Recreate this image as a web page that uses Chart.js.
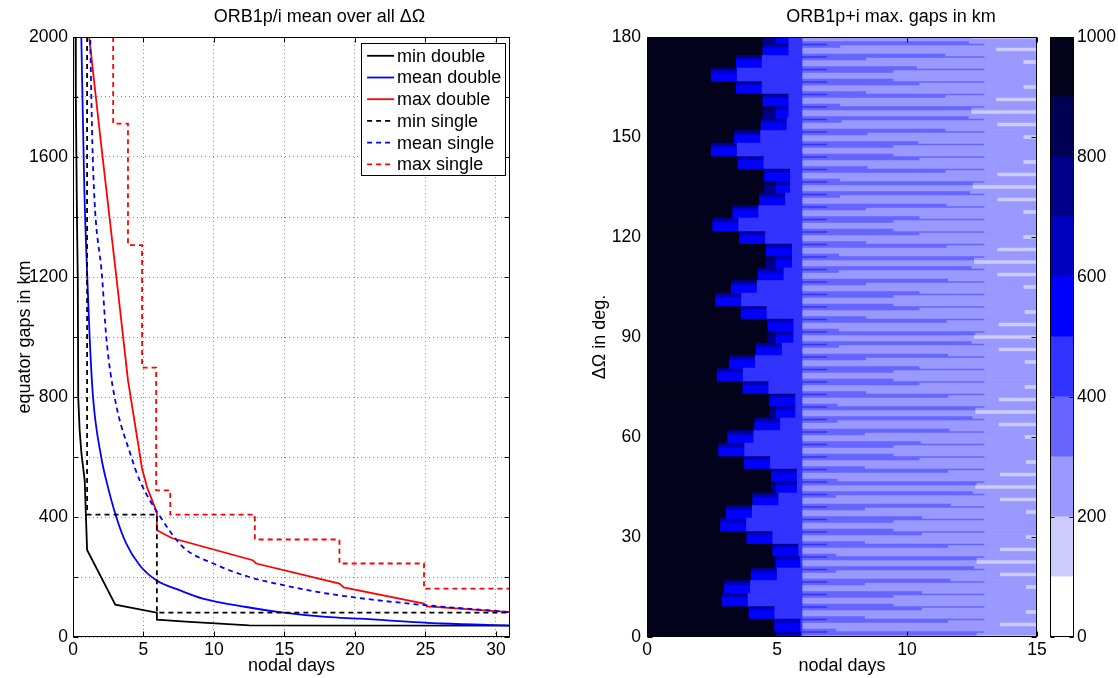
<!DOCTYPE html>
<html><head><meta charset="utf-8">
<script src="https://cdn.jsdelivr.net/npm/chart.js@4.4.1/dist/chart.umd.min.js"></script>
<style>
html,body{margin:0;padding:0;background:#fff;}
#wrap{position:relative;width:1118px;height:678px;overflow:hidden;background:#fff;}
canvas{position:absolute;top:0;}
</style></head><body>
<div id="wrap">
<canvas id="cL" width="560" height="678" style="left:0px;width:560px;height:678px"></canvas>
<canvas id="cR" width="495" height="678" style="left:560px;width:495px;height:678px"></canvas>
<canvas id="cC" width="78" height="678" style="left:1040px;width:78px;height:678px"></canvas>
</div>
<script>
// ---------------- Left panel data (nodal days vs. equator gap in km) ----------------
const minDoubleX  = [0.16, 0.2, 0.28, 0.34, 0.37, 0.47, 0.6, 0.83, 1.0, 3.0, 5.95, 5.95, 8.0, 12.5, 31];
const minDoubleY  = [2300, 1800, 1400, 1190, 800, 690, 611, 522, 290, 108, 81, 58, 51, 39, 38];
const meanDoubleX = [0.57, 0.8, 1.02, 1.18, 1.42, 2.0, 2.36, 3.07, 3.78, 4.73, 5.91, 7.56, 9.21, 12.28, 14.65, 17.95, 20.32, 26.2, 31];
const meanDoubleY = [2050, 1500, 1190, 1000, 800, 600, 522, 400, 311, 239, 189, 156, 128, 100, 83, 67, 61, 45, 38];
const maxDoubleX  = [1.1, 2.0, 3.1, 3.9, 4.9, 5.25, 5.8, 5.95, 5.95, 7.0, 12.75, 13.0, 18.9, 19.2, 24.9, 25.1, 31];
const maxDoubleY  = [2020, 1640, 1190, 856, 561, 500, 433, 412, 356, 330, 256, 245, 178, 165, 111, 102, 83];
const minSingleX  = [1.0, 1.0, 5.95, 5.95, 31];
const minSingleY  = [2300, 408, 408, 81, 81];
const meanSingleX = [1.2, 1.4, 2.08, 2.36, 2.95, 4.14, 4.73, 6.2, 7.8, 10.0, 12.5, 15.0, 18.0, 23.9, 31];
const meanSingleY = [2050, 1600, 1190, 1000, 800, 600, 522, 400, 300, 244, 200, 172, 145, 111, 83];
const maxSingleX  = [2.85, 2.85, 3.9, 3.9, 4.9, 4.9, 5.9, 5.9, 6.9, 6.9, 12.9, 12.9, 18.9, 18.9, 24.9, 24.9, 31, 31];
const maxSingleY  = [2300, 1711, 1711, 1306, 1306, 898, 898, 489, 489, 408, 408, 325, 325, 245, 245, 161, 161, 39];
const seriesLabels = ['min double', 'mean double', 'max double', 'min single', 'mean single', 'max single'];

// ---------------- Right panel data (max gaps heat map) ----------------
// ΔΩ band centres (deg)
const bandDeg = [0,3.75,7.5,11.25,15,18.75,22.5,26.25,30,33.75,37.5,41.25,45,48.75,52.5,56.25,60,63.75,67.5,71.25,75,78.75,82.5,86.25,90,93.75,97.5,101.25,105,108.75,112.5,116.25,120,123.75,127.5,131.25,135,138.75,142.5,146.25,150,153.75,157.5,161.25,165,168.75,172.5,176.25,180];
// sub-row offsets within each band (deg), top to bottom
const subRowDeg = [1.5, 0.75, 0, -0.75, -1.5];
// nodal day where the >900 km region ends
const blackEnd = [4.95,4.92,3.93,2.90,2.99,4.02,4.92,4.85,3.85,2.84,3.06,4.08,4.79,4.79,3.76,2.77,3.12,4.15,4.73,4.73,3.70,2.71,3.18,4.21,4.66,4.66,3.63,2.65,3.25,4.28,4.60,4.60,3.57,2.54,3.31,4.34,4.53,4.53,3.51,2.48,3.38,4.40,4.47,4.47,3.44,2.48,3.44,4.47,4.47];
// end of the dark navy (700-900 km) block
const navyEnd = [4.98,4.92,3.93,2.90,2.99,4.02,4.98,4.85,3.85,2.84,3.06,4.08,4.98,4.79,3.76,2.77,3.12,4.15,4.98,4.73,3.70,2.71,3.18,4.21,4.98,4.66,3.63,2.65,3.25,4.28,4.98,4.60,3.57,2.54,3.31,4.34,4.98,4.53,3.51,2.48,3.38,4.40,4.98,4.47,3.44,2.48,3.44,4.47,4.98];
// end of the 500-900 km transition block
const transEnd = [5.95,5.92,4.93,3.90,3.99,5.02,5.92,5.85,4.85,3.84,4.06,5.08,5.79,5.79,4.76,3.77,4.12,5.15,5.73,5.73,4.70,3.71,4.18,5.21,5.66,5.66,4.63,3.65,4.25,5.28,5.60,5.60,4.57,3.54,4.31,5.34,5.53,5.53,4.51,3.48,4.38,5.40,5.47,5.47,4.44,3.48,4.44,5.47,5.47];
const blueColumnEnd = 6.0;     // 400-500 km column ends
const shortStripeEnd = 6.95;   // short 400-500 km stripe
const fullStripeEnd = 13.0;    // long 300-400 km stripe
const bar1End = [12.7,11.6,10.6,9.5,8.4,7.3,12.7,11.6,10.6,9.5,8.4,7.3,12.7,11.6,10.5,9.5,8.4,7.35,12.65,11.6,10.5,9.5,8.45,7.4,12.65,11.55,10.5,9.5,8.45,7.4,12.6,11.55,10.5,9.5,8.45,7.45,12.55,11.5,10.5,9.5,8.5,7.5,12.5,11.5,10.5,9.5,8.45,7.45,12.5];
const bar2End = [12.6,7.3,8.4,9.5,10.6,11.7,12.6,7.3,8.4,9.5,10.6,11.7,12.55,7.35,8.4,9.5,10.55,11.65,12.55,7.35,8.45,9.5,10.5,11.6,12.5,7.4,8.45,9.5,10.5,11.6,12.5,7.4,8.45,9.5,10.5,11.55,12.45,7.45,8.5,9.5,10.45,11.5,12.4,7.45,8.45,9.5,10.4,11.5,12.4];
const paleStart = [12.7,13.6,14.6,15,14.6,13.6,12.7,13.6,14.6,15,14.6,13.6,12.65,13.6,14.6,15,14.55,13.55,12.65,13.55,14.55,15,14.55,13.55,12.6,13.55,14.55,15,14.5,13.5,12.6,13.5,14.5,15,14.5,13.5,12.55,13.5,14.5,15,14.5,13.5,12.5,13.45,14.5,15,14.5,13.45,12.5];
// colour level (0..9) of the transition block per sub-row
const transLevels = [7, 6, 5, 5, 5];
const navyLevels  = [8, 8, 7, 7, 7];
// colour scale: levels of 100 km
const levelBounds = [0,100,200,300,400,500,600,700,800,900,1000];
const levelColors = ['#ffffff','#ccccff','#9999ff','#6666ff','#3333ff','#0000ff','#0000c0','#00008a','#000055','#03031c'];
const panelTitles = ['ORB1p/i mean over all ΔΩ', 'ORB1p+i max. gaps in km'];

const FONT = "'Liberation Sans', Arial, Helvetica, sans-serif";
Chart.defaults.font.family = FONT;
Chart.defaults.font.size = 17.5;
Chart.defaults.color = '#000';

// -------- plugins: frame + inward ticks, boxed legend, panel title --------
const frameTicks = {
  id: 'frameTicks',
  afterDatasetsDraw(chart, args, o) {
    const {ctx, chartArea: a} = chart;
    const L = o.len || 5;
    ctx.save();
    ctx.strokeStyle = '#000'; ctx.lineWidth = 1; ctx.setLineDash([]);
    const l = Math.round(a.left) + 0.5, r = Math.round(a.right) - 0.5;
    const t = Math.round(a.top) + 0.5, b = Math.round(a.bottom) - 0.5;
    ctx.beginPath();
    if (o.x) chart.scales.x.ticks.forEach(tk => {
      const p = Math.round(chart.scales.x.getPixelForValue(tk.value)) + 0.5;
      ctx.moveTo(p, b); ctx.lineTo(p, b - L); ctx.moveTo(p, t); ctx.lineTo(p, t + L);
    });
    if (o.y) chart.scales.y.ticks.forEach(tk => {
      const p = Math.round(chart.scales.y.getPixelForValue(tk.value)) + 0.5;
      ctx.moveTo(l, p); ctx.lineTo(l + L, p); ctx.moveTo(r, p); ctx.lineTo(r - L, p);
    });
    ctx.stroke();
    ctx.strokeRect(l, t, r - l, b - t);
    ctx.restore();
  }
};
const boxLegend = {
  id: 'boxLegend',
  afterDatasetsDraw(chart, args, o) {
    const {ctx, chartArea: a} = chart;
    const ds = chart.data.datasets;
    ctx.save();
    ctx.font = '18px ' + FONT;
    const tw = Math.max(...ds.map(d => ctx.measureText(d.label).width));
    const w = o.textX + tw + o.padR;
    const h = o.firstRow + (ds.length - 1) * o.rowH + o.padB;
    const x0 = Math.round(a.right - o.right - w) + 0.5;
    const y0 = Math.round(a.top + o.top) + 0.5;
    ctx.fillStyle = '#fff';
    ctx.fillRect(x0, y0, w, h);
    ctx.strokeStyle = '#000'; ctx.lineWidth = 1; ctx.setLineDash([]);
    ctx.strokeRect(x0, y0, Math.round(w), Math.round(h));
    ds.forEach((d, i) => {
      const yy = y0 + o.firstRow + i * o.rowH;
      ctx.beginPath();
      ctx.strokeStyle = d.borderColor; ctx.lineWidth = d.borderWidth;
      ctx.setLineDash(d.borderDash || []);
      ctx.moveTo(x0 + o.sampleX, yy); ctx.lineTo(x0 + o.sampleX + o.sampleLen, yy);
      ctx.stroke();
      ctx.setLineDash([]);
      ctx.fillStyle = '#000'; ctx.textBaseline = 'middle'; ctx.textAlign = 'left';
      ctx.fillText(d.label, x0 + o.textX, yy + 1);
    });
    ctx.restore();
  }
};
const panelTitle = {
  id: 'panelTitle',
  afterDraw(chart, args, o) {
    const {ctx, chartArea: a} = chart;
    ctx.save();
    ctx.font = '18px ' + FONT; ctx.fillStyle = '#000';
    ctx.textAlign = 'center'; ctx.textBaseline = 'middle';
    ctx.fillText(o.text, (a.left + a.right) / 2 + o.dx, o.y);
    ctx.restore();
  }
};

// ---------------- Left chart ----------------
const seriesX = [minDoubleX, meanDoubleX, maxDoubleX, minSingleX, meanSingleX, maxSingleX];
const seriesY = [minDoubleY, meanDoubleY, maxDoubleY, minSingleY, meanSingleY, maxSingleY];
const seriesColor = ['#000000', '#0000ff', '#ff0000', '#000000', '#0000ff', '#ff0000'];
const seriesDash = [[], [], [], [5, 4], [5, 4], [5, 4]];
const seriesSmooth = [false, true, false, false, true, false];

new Chart(document.getElementById('cL'), {
  type: 'line',
  data: {
    datasets: seriesLabels.map((lab, i) => ({
      label: lab,
      data: seriesX[i].map((x, j) => ({x: x, y: seriesY[i][j]})),
      borderColor: seriesColor[i], backgroundColor: seriesColor[i],
      borderDash: seriesDash[i], borderWidth: 1.8, pointRadius: 0, fill: false,
      tension: seriesSmooth[i] ? 0.4 : 0,
      cubicInterpolationMode: seriesSmooth[i] ? 'monotone' : 'default',
      order: seriesLabels.length - i
    }))
  },
  options: {
    responsive: false, animation: false, events: [], devicePixelRatio: 1,
    layout: {padding: {left: 0, right: 50, top: 37, bottom: 0}},
    plugins: {
      legend: {display: false}, tooltip: {enabled: false}, title: {display: false},
      panelTitle: {text: panelTitles[0], dx: 28, y: 17},
      frameTicks: {x: true, y: true, len: 5},
      boxLegend: {right: 5, top: 5.7, sampleX: 5.6, sampleLen: 27, textX: 35.6, padR: 4, firstRow: 12.3, rowH: 21.7, padB: 10.7}
    },
    scales: {
      x: {
        type: 'linear', min: 0, max: 31,
        afterFit(s) { s.height = 41; },
        ticks: {stepSize: 5, includeBounds: false, maxRotation: 0, padding: 3, color: '#000'},
        grid: {color: '#8c8c8c', lineWidth: 1, drawTicks: false},
        border: {display: false, dash: [1, 3]},
        title: {display: true, text: 'nodal days', color: '#000', font: {size: 18}, padding: {top: 0, bottom: 1}}
      },
      y: {
        type: 'linear', min: 0, max: 2000,
        afterFit(s) { s.width = 73; },
        ticks: {stepSize: 200, includeBounds: false, padding: 5, color: '#000',
                callback: v => (v % 400 === 0 ? String(v) : '')},
        grid: {color: '#8c8c8c', lineWidth: 1, drawTicks: false},
        border: {display: false, dash: [1, 3]},
        title: {display: true, text: 'equator gaps in km', color: '#000', font: {size: 18}, padding: {top: 14}}
      }
    }
  },
  plugins: [frameTicks, boxLegend, panelTitle]
});

// ---------------- Right chart (heat map as floating horizontal bars) ----------------
function buildHeatSets() {
  const sets = levelColors.map(() => []);
  bandDeg.forEach((c, k) => {
    subRowDeg.forEach((off, s) => {
      const y = c + off;
      const segs = [];
      segs.push([0, blackEnd[k], 9]);
      segs.push([blackEnd[k], navyEnd[k], navyLevels[s]]);
      segs.push([Math.max(blackEnd[k], navyEnd[k]), transEnd[k], transLevels[s]]);
      segs.push([transEnd[k], blueColumnEnd, 4]);
      if (s === 0) {
        segs.push([blueColumnEnd, shortStripeEnd, 4]);
        segs.push([shortStripeEnd, fullStripeEnd, 3]);
        segs.push([fullStripeEnd, 15, 2]);
      } else if (s === 1) {
        segs.push([blueColumnEnd, bar1End[k], 3]);
        segs.push([bar1End[k], 15, 2]);
      } else if (s === 2) {
        segs.push([blueColumnEnd, paleStart[k], 2]);
        segs.push([paleStart[k], 15, 1]);
      } else if (s === 3) {
        segs.push([blueColumnEnd, 15, 2]);
      } else {
        segs.push([blueColumnEnd, bar2End[k], 3]);
        segs.push([bar2End[k], 15, 2]);
      }
      segs.forEach(([a, b, l]) => { if (b > a) sets[l].push({x: [a, b], y: y}); });
    });
  });
  return sets;
}
const heatSets = buildHeatSets();

new Chart(document.getElementById('cR'), {
  type: 'bar',
  data: {
    datasets: heatSets.map((d, l) => ({
      label: levelBounds[l] + '-' + levelBounds[l + 1],
      data: d, backgroundColor: levelColors[l], borderWidth: 0,
      grouped: false, barPercentage: 1, categoryPercentage: 1, inflateAmount: 0.6, clip: 0
    }))
  },
  options: {
    indexAxis: 'y', responsive: false, animation: false, events: [], devicePixelRatio: 1,
    layout: {padding: {left: 0, right: 18, top: 37, bottom: 0}},
    plugins: {
      legend: {display: false}, tooltip: {enabled: false}, title: {display: false},
      panelTitle: {text: panelTitles[1], dx: 49, y: 17},
      frameTicks: {x: true, y: true, len: 5}
    },
    scales: {
      x: {
        type: 'linear', min: 0, max: 15, offset: false,
        afterFit(s) { s.height = 41; },
        ticks: {stepSize: 5, includeBounds: false, maxRotation: 0, padding: 3, color: '#000'},
        grid: {display: false, drawTicks: false},
        border: {display: false},
        title: {display: true, text: 'nodal days', color: '#000', font: {size: 18}, padding: {top: 0, bottom: 1}}
      },
      y: {
        type: 'linear', min: 0, max: 180, offset: false,
        afterFit(s) { s.width = 87; },
        ticks: {stepSize: 30, includeBounds: false, padding: 6, color: '#000'},
        grid: {display: false, drawTicks: false},
        border: {display: false},
        title: {display: true, text: 'ΔΩ in deg.', color: '#000', font: {size: 18}, padding: {top: 29}}
      }
    }
  },
  plugins: [frameTicks, panelTitle]
});

// ---------------- Colour bar ----------------
new Chart(document.getElementById('cC'), {
  type: 'bar',
  data: {
    labels: ['gap'],
    datasets: levelColors.map((col, l) => ({
      label: levelBounds[l] + '-' + levelBounds[l + 1],
      data: [[levelBounds[l], levelBounds[l + 1]]],
      backgroundColor: col, borderWidth: 0, grouped: false,
      barPercentage: 1, categoryPercentage: 1, inflateAmount: 0.4
    }))
  },
  options: {
    responsive: false, animation: false, events: [], devicePixelRatio: 1,
    layout: {padding: {left: 10, right: 0, top: 37, bottom: 41}},
    plugins: {legend: {display: false}, tooltip: {enabled: false}, frameTicks: {x: false, y: true, len: 4}},
    scales: {
      x: {display: false},
      y: {
        type: 'linear', position: 'right', min: 0, max: 1000,
        afterFit(s) { s.width = 44; },
        ticks: {stepSize: 200, padding: 3, color: '#000', callback: v => String(v)},
        grid: {display: false, drawTicks: false},
        border: {display: false}
      }
    }
  },
  plugins: [frameTicks]
});
</script>
</body></html>
